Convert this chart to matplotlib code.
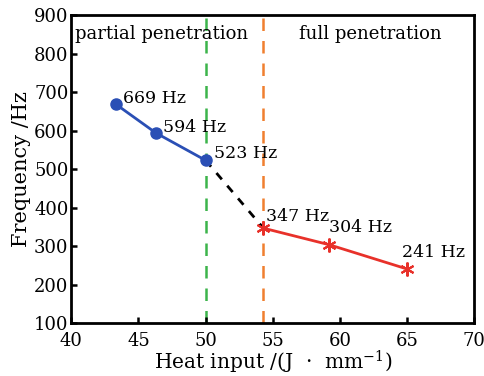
import matplotlib
matplotlib.use('Agg')
import matplotlib.pyplot as plt

plt.rcParams['font.family'] = ['DejaVu Serif']
plt.rcParams['mathtext.fontset'] = 'dejavuserif'

partial_x = [43.3, 46.3, 50.0]
partial_y = [669, 594, 523]
full_x = [54.3, 59.2, 65.0]
full_y = [347, 304, 241]
partial_labels = ['669 Hz', '594 Hz', '523 Hz']
full_labels = ['347 Hz', '304 Hz', '241 Hz']
boundary_partial = 50.0
boundary_full = 54.3

fig = plt.figure(figsize=(4.85, 3.76), dpi=100)
ax = fig.add_axes([0.147, 0.14, 0.831, 0.82])

ax.axvline(boundary_partial, color='#3cb44b', linestyle=(0, (5, 4)), linewidth=1.8, zorder=1)
ax.axvline(boundary_full, color='#f07f2f', linestyle=(0, (5, 4)), linewidth=1.8, zorder=1)

ax.plot([partial_x[-1], full_x[0]], [partial_y[-1], full_y[0]], color='black',
        linestyle=(0, (3, 3)), linewidth=2, zorder=2)
ax.plot(partial_x, partial_y, color='#2a4fb5', marker='o', markersize=8, linewidth=2, zorder=3)
ax.plot(full_x, full_y, color='#e8312a', marker=(6, 2, 0), markersize=10,
        markeredgewidth=1.5, linewidth=2, zorder=3)

# label offsets in points
offsets = [(5, 1), (5, 1), (6, 2)]
for x, y, t, o in zip(partial_x, partial_y, partial_labels, offsets):
    ax.annotate(t, (x, y), xytext=o, textcoords='offset points', fontsize=12.5)
offsets = [(2, 5), (0, 9), (-4, 9)]
for x, y, t, o in zip(full_x, full_y, full_labels, offsets):
    ax.annotate(t, (x, y), xytext=o, textcoords='offset points', fontsize=12.5)

ax.text(0.01, 0.94, 'partial penetration', transform=ax.transAxes, fontsize=13, va='center')
ax.text(0.565, 0.94, 'full penetration', transform=ax.transAxes, fontsize=13, va='center')

ax.set_xlim(40, 70)
ax.set_ylim(100, 900)
ax.set_xticks([40, 45, 50, 55, 60, 65, 70])
ax.set_yticks(range(100, 901, 100))
ax.tick_params(direction='in', labelsize=13, width=1.8, length=4)
ax.tick_params(axis='x', pad=6)
ax.tick_params(axis='y', pad=2)
for s in ax.spines.values():
    s.set_linewidth(2)
ax.set_xlabel('Heat input /(J  \u00b7  mm$^{-1}$)', fontsize=14.5, labelpad=-1)
ax.set_ylabel('Frequency /Hz', fontsize=15, labelpad=2)

fig.savefig('out.png', dpi=100)
